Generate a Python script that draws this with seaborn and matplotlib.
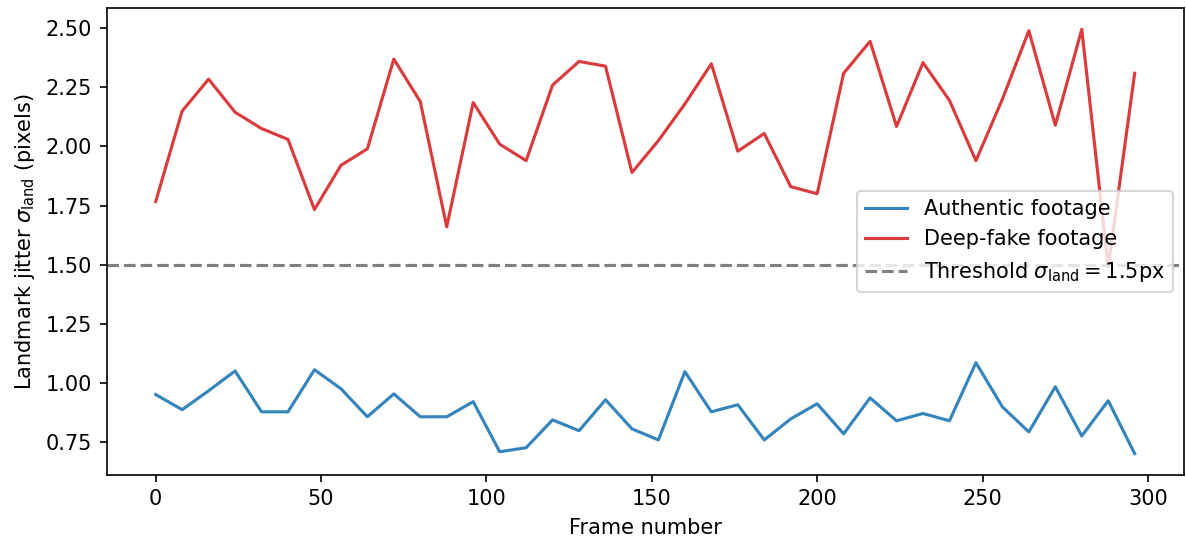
import numpy as np
import pandas as pd
import matplotlib
matplotlib.use("Agg")
import matplotlib.pyplot as plt
import seaborn as sns

frames = list(range(0, 297, 8))
authentic = [0.95, 0.886, 0.966, 1.05, 0.877, 0.877, 1.055, 0.975, 0.856, 0.953,
             0.856, 0.856, 0.92, 0.708, 0.725, 0.843, 0.797, 0.928, 0.805, 0.758,
             1.047, 0.877, 0.907, 0.758, 0.847, 0.911, 0.784, 0.936, 0.839, 0.87,
             0.839, 1.085, 0.898, 0.792, 0.983, 0.775, 0.924, 0.70]
deepfake = [1.767, 2.15, 2.285, 2.145, 2.076, 2.03, 1.733, 1.92, 1.99, 2.37,
            2.19, 1.66, 2.186, 2.01, 1.94, 2.26, 2.36, 2.34, 1.89, 2.025,
            2.18, 2.35, 1.98, 2.055, 1.83, 1.80, 2.31, 2.445, 2.085, 2.355,
            2.195, 1.94, 2.2, 2.49, 2.09, 2.496, 1.49, 2.31]
threshold = 1.5

DPI = 150
fig, ax = plt.subplots(figsize=(1186 / DPI, 539 / DPI), dpi=DPI)
fig.subplots_adjust(left=0.090, right=0.998, top=0.985, bottom=0.119)

sns.lineplot(x=frames, y=authentic, ax=ax, color="#1f77b4", alpha=0.9,
             label="Authentic footage")
sns.lineplot(x=frames, y=deepfake, ax=ax, color="#d62728", alpha=0.9,
             label="Deep-fake footage")
ax.axhline(threshold, color="gray", linestyle="--",
           label=r"Threshold $\sigma_{\mathrm{land}} = 1.5$px")

ax.set_xlabel("Frame number")
ax.set_ylabel(r"Landmark jitter $\sigma_{\mathrm{land}}$ (pixels)")
ax.legend(loc="center right")

fig.savefig("out.png", dpi=DPI)
